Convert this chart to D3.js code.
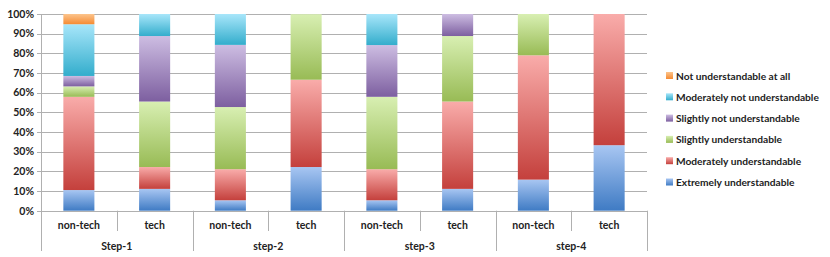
<!DOCTYPE html>
<html>
<head>
<meta charset="utf-8">
<script src="https://cdn.jsdelivr.net/npm/d3@7"></script>
<style>
  body { margin: 0; background: #fff; }
  svg text { font-family: Lato, "Liberation Sans", sans-serif; font-weight: bold; fill: #222; }
</style>
</head>
<body>
<div id="chart"></div>
<script>
var groups = ["Step-1", "step-2", "step-3", "step-4"];
var subs = ["non-tech", "tech"];
var levels = ["Extremely understandable", "Moderately understandable", "Slightly understandable",
              "Slightly not understandable", "Moderately not understandable", "Not understandable at all"];
var yTicks = ["0%", "10%", "20%", "30%", "40%", "50%", "60%", "70%", "80%", "90%", "100%"];

// percent per bar, order: Step-1 non-tech, Step-1 tech, step-2 non-tech ...
var extremely  = [10.5, 11.1, 5.3, 22.2, 5.3, 11.1, 15.8, 33.3];
var moderately = [47.4, 11.1, 15.8, 44.4, 15.8, 44.4, 63.2, 66.7];
var slightly   = [5.3, 33.3, 31.6, 33.3, 36.8, 33.3, 21.0, 0];
var slightlyNot = [5.3, 33.3, 31.6, 0, 26.3, 11.2, 0, 0];
var moderatelyNot = [26.3, 11.2, 15.7, 0, 15.8, 0, 0, 0];
var notAtAll   = [5.2, 0, 0, 0, 0, 0, 0, 0];

var colTop = ["#a8c6f2", "#f9acaa", "#d8efb2", "#cdbde2", "#a8e6fa", "#fcc48c"];
var colBot = ["#3f7bc4", "#c4403c", "#98bb55", "#7d5fa0", "#33adcc", "#f58b33"];

var series = [extremely, moderately, slightly, slightlyNot, moderatelyNot, notAtAll];
var bars = [];
groups.forEach(function(g) { subs.forEach(function(s) { bars.push(g + "|" + s); }); });
var rows = bars.map(function(b, i) {
  var r = { key: b };
  levels.forEach(function(l, j) { r[l] = series[j][i]; });
  return r;
});
var stacked = d3.stack().keys(levels)(rows);

var W = 830, H = 257;
var mLeft = 41, mRight = 647, mTop = 14, mBottom = 210.7;

var svg = d3.select("#chart").append("svg")
  .attr("width", W).attr("height", H);

var defs = svg.append("defs");
levels.forEach(function(l, j) {
  var gr = defs.append("linearGradient").attr("id", "g" + j)
    .attr("x1", 0).attr("y1", 0).attr("x2", 0).attr("y2", 1);
  gr.append("stop").attr("offset", "0%").attr("stop-color", colTop[j]);
  gr.append("stop").attr("offset", "100%").attr("stop-color", colBot[j]);
});

var x = d3.scaleBand().domain(bars).range([mLeft, mRight]).paddingInner(0.59).paddingOuter(0.295);
var y = d3.scaleLinear().domain([0, 100]).range([mBottom, mTop]);

// gridlines
svg.append("g").selectAll("line").data(d3.range(0, 101, 10)).enter().append("line")
  .attr("x1", mLeft - 4).attr("x2", mRight)
  .attr("y1", function(d) { return Math.round(y(d)) + 0.5; })
  .attr("y2", function(d) { return Math.round(y(d)) + 0.5; })
  .style("stroke", "#b0b0b0").style("stroke-width", 1);

// y labels
svg.append("g").selectAll("text").data(yTicks).enter().append("text")
  .attr("x", mLeft - 7).attr("y", function(d, i) { return y(i * 10) + 3.8; })
  .attr("text-anchor", "end").style("font-size", "10.5px").text(function(d) { return d; });

// bars
svg.append("g").selectAll("g").data(stacked).enter().append("g")
  .attr("fill", function(d, j) { return "url(#g" + j + ")"; })
  .selectAll("rect").data(function(d) { return d; }).enter().append("rect")
  .attr("x", function(d) { return x(d.data.key); })
  .attr("width", x.bandwidth())
  .attr("y", function(d) { return y(d[1]); })
  .attr("height", function(d) { return y(d[0]) - y(d[1]); });

// axes frame
var slot = (mRight - mLeft) / bars.length;
svg.append("line").attr("x1", mLeft + 0.5).attr("x2", mLeft + 0.5).attr("y1", mTop).attr("y2", 251)
  .style("stroke", "#b0b0b0");
svg.append("line").attr("x1", mLeft).attr("x2", mRight).attr("y1", Math.round(mBottom) + 0.5).attr("y2", Math.round(mBottom) + 0.5)
  .style("stroke", "#b0b0b0");
svg.append("g").selectAll("line").data(d3.range(1, bars.length + 1)).enter().append("line")
  .attr("x1", function(i) { return Math.round(mLeft + i * slot) + 0.5; })
  .attr("x2", function(i) { return Math.round(mLeft + i * slot) + 0.5; })
  .attr("y1", mBottom)
  .attr("y2", function(i) { return i % 2 === 0 ? 251 : 231; })
  .style("stroke", "#b0b0b0");

// category labels
svg.append("g").selectAll("text").data(bars).enter().append("text")
  .attr("x", function(d) { return x(d) + x.bandwidth() / 2; })
  .attr("y", 228.5).attr("text-anchor", "middle").style("font-size", "10.5px")
  .text(function(d) { return d.split("|")[1]; });
svg.append("g").selectAll("text").data(groups).enter().append("text")
  .attr("x", function(d, i) { return mLeft + (i * 2 + 1) * slot; })
  .attr("y", 249.5).attr("text-anchor", "middle").style("font-size", "10.5px")
  .text(function(d) { return d; });

// legend
var leg = svg.append("g").selectAll("g").data(levels.slice().reverse()).enter().append("g")
  .attr("transform", function(d, i) { return "translate(666," + (76 + i * 21.3) + ")"; });
leg.append("rect").attr("x", 0).attr("y", -4).attr("width", 7).attr("height", 7)
  .attr("fill", function(d) { return "url(#g" + levels.indexOf(d) + ")"; });
leg.append("text").attr("x", 10).attr("y", 3.5).style("font-size", "10.2px")
  .text(function(d) { return d; });
</script>
</body>
</html>
